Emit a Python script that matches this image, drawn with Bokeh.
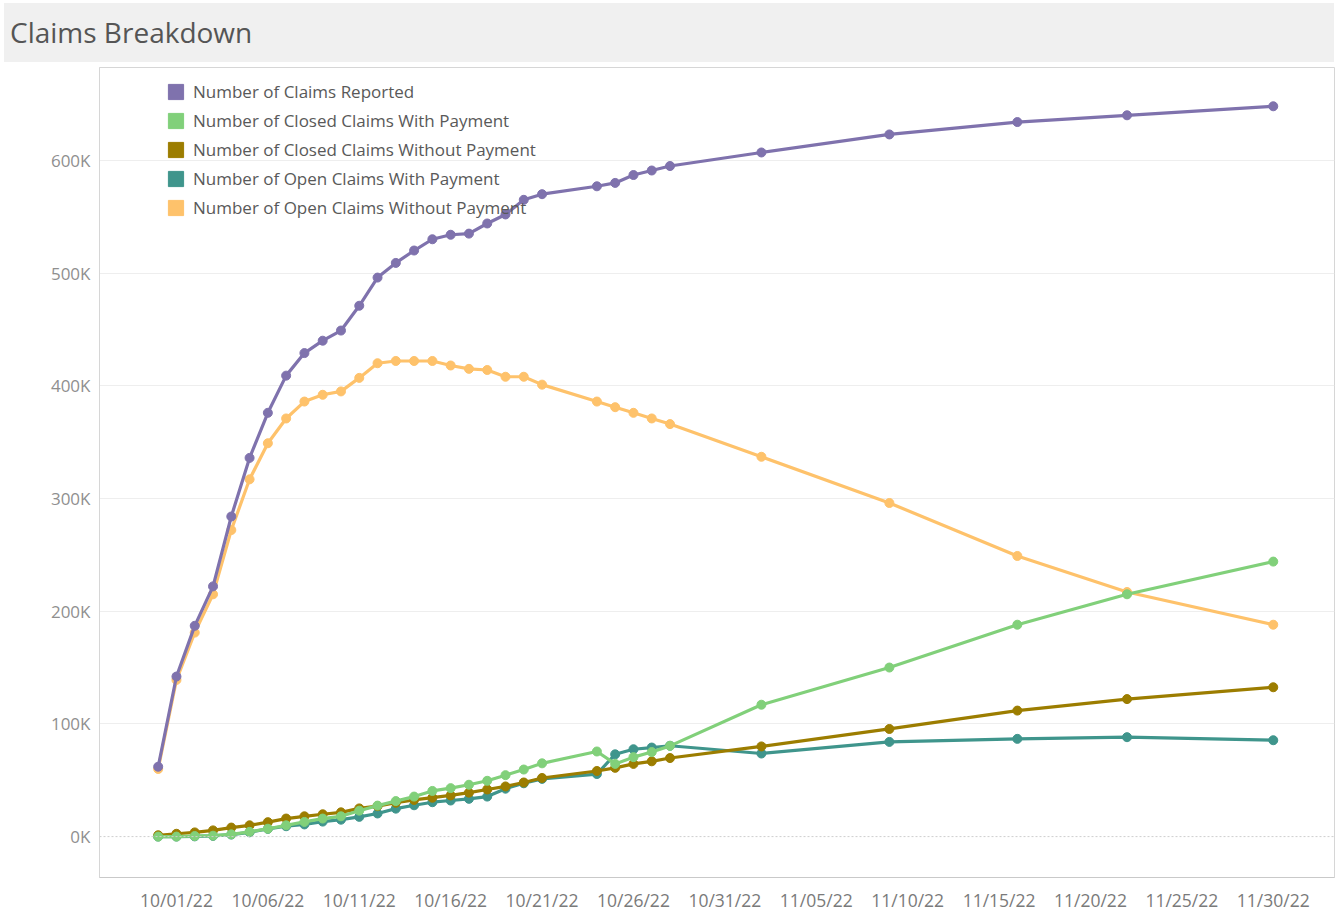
import pandas as pd
from bokeh.plotting import figure
from bokeh.models import (FixedTicker, DatetimeTickFormatter, Legend, LegendItem,
                          Span, Div, Range1d)
from bokeh.layouts import column
from bokeh.embed import file_html
from bokeh.resources import INLINE

# ---------------- data (values in thousands) ----------------
dates = ["2022-09-30",
         "2022-10-01", "2022-10-02", "2022-10-03", "2022-10-04", "2022-10-05",
         "2022-10-06", "2022-10-07", "2022-10-08", "2022-10-09", "2022-10-10",
         "2022-10-11", "2022-10-12", "2022-10-13", "2022-10-14", "2022-10-15",
         "2022-10-16", "2022-10-17", "2022-10-18", "2022-10-19", "2022-10-20",
         "2022-10-21",
         "2022-10-24", "2022-10-25", "2022-10-26", "2022-10-27", "2022-10-28",
         "2022-11-02", "2022-11-09", "2022-11-16", "2022-11-22", "2022-11-30"]

claims_reported = [62, 142, 187, 222, 284, 336, 376, 409, 429, 440,
                   449, 471, 496, 509, 520, 530, 534, 535, 544, 552,
                   565, 570,
                   577, 580, 587, 591, 595,
                   607, 623, 634, 640, 648]

closed_with_payment = [0, 0, 0.5, 0.8, 2, 4.2, 7, 10, 13, 16,
                       18, 23, 27.5, 31.5, 35.5, 40.5, 43, 46, 49.5, 54.5,
                       59.5, 65,
                       75.5, 64.5, 70.5, 75, 80.5,
                       117, 150, 188, 215, 244]

closed_without_payment = [1.2, 2.5, 3.7, 5.5, 8, 10, 12.8, 16, 18, 19.8,
                          21.5, 25, 27, 30, 32.5, 34.5, 36.5, 39, 41.8, 44.5,
                          48, 52,
                          58.2, 61, 64.5, 66.8, 69.7,
                          80, 95.5, 111.8, 122, 132.5]

open_with_payment = [0, 0, 0.2, 0.6, 1.8, 3.8, 6.8, 9.2, 10.8, 13.3,
                     15, 17.5, 20.5, 24.8, 27.8, 30.5, 32, 33.5, 35.5, 42.5,
                     47.3, 51.2,
                     55.5, 73, 77.5, 79, 80.6,
                     73.7, 84, 86.7, 88.2, 85.5]

open_without_payment = [60, 139, 181, 215, 272, 317, 349, 371, 386, 392,
                        395, 407, 420, 422, 422, 422, 418, 415, 414, 408,
                        408, 401,
                        386, 381, 376, 371, 366,
                        337, 296, 249, 217, 188]

series_names = ["Number of Claims Reported",
                "Number of Closed Claims With Payment",
                "Number of Closed Claims Without Payment",
                "Number of Open Claims With Payment",
                "Number of Open Claims Without Payment"]

x_tick_dates = ["2022-10-01", "2022-10-06", "2022-10-11", "2022-10-16",
                "2022-10-21", "2022-10-26", "2022-10-31", "2022-11-05",
                "2022-11-10", "2022-11-15", "2022-11-20", "2022-11-25",
                "2022-11-30"]
y_ticks = [0, 100, 200, 300, 400, 500, 600]
y_tick_labels = ["0K", "100K", "200K", "300K", "400K", "500K", "600K"]

# ---------------- styling ----------------
colors = {
    series_names[0]: "#7f72ad",
    series_names[1]: "#81d07a",
    series_names[2]: "#9c7d00",
    series_names[3]: "#3f958c",
    series_names[4]: "#fec26b",
}
values = {
    series_names[0]: claims_reported,
    series_names[1]: closed_with_payment,
    series_names[2]: closed_without_payment,
    series_names[3]: open_with_payment,
    series_names[4]: open_without_payment,
}

FONT = "Open Sans"
x = pd.to_datetime(dates)
day_ms = 86400000.0
t0 = pd.Timestamp("2022-10-01").value / 1e6

p = figure(width=1336, height=852, output_backend="svg", toolbar_location=None,
           x_axis_type="datetime",
           x_range=Range1d(t0 - 4.21 * day_ms, t0 + 63.35 * day_ms),
           y_range=Range1d(-36.3, 682.4),
           min_border_left=99, min_border_right=2, min_border_top=5,
           min_border_bottom=36, margin=0)
p.background_fill_color = "white"
p.border_fill_color = "white"
p.outline_line_color = "#d6d6d6"
p.outline_line_width = 1

# grid
p.xgrid.visible = False
p.ygrid.ticker = FixedTicker(ticks=y_ticks[1:])
p.ygrid.grid_line_color = "#eeeeee"
p.ygrid.grid_line_width = 1
p.add_layout(Span(location=0, dimension="width", line_color="#cfcfcf",
                  line_dash="2 2", line_width=1))

# axes
p.yaxis.ticker = FixedTicker(ticks=y_ticks)
p.yaxis.major_label_overrides = {t: l for t, l in zip(y_ticks, y_tick_labels)}
p.yaxis.axis_line_color = "#d6d6d6"
p.yaxis.major_tick_line_color = None
p.yaxis.minor_tick_line_color = None
p.yaxis.major_tick_out = 0
p.yaxis.major_tick_in = 0
p.yaxis.minor_tick_out = 0
p.yaxis.major_label_text_color = "#8f8f8f"
p.yaxis.major_label_text_font = FONT
p.yaxis.major_label_text_font_size = "17px"
p.yaxis.major_label_standoff = 9

p.xaxis.ticker = FixedTicker(ticks=[pd.Timestamp(d).value / 1e6 for d in x_tick_dates])
fmt = "%m/%d/%y"
p.xaxis.formatter = DatetimeTickFormatter(days=fmt, months=fmt, hours=fmt,
                                          years=fmt, minutes=fmt, seconds=fmt,
                                          milliseconds=fmt, minsec=fmt, hourmin=fmt)
p.xaxis.axis_line_color = "#c9c9c9"
p.xaxis.major_tick_line_color = None
p.xaxis.minor_tick_line_color = None
p.xaxis.major_tick_out = 0
p.xaxis.major_tick_in = 0
p.xaxis.minor_tick_out = 0
p.xaxis.major_label_text_color = "#7a7a7a"
p.xaxis.major_label_text_font = FONT
p.xaxis.major_label_text_font_size = "17.5px"
p.xaxis.major_label_standoff = 10

# series (draw order: orange, teal, gold, green, purple)
order = [series_names[4], series_names[3], series_names[2], series_names[1], series_names[0]]
for name in order:
    c = colors[name]
    p.line(x, values[name], line_color=c, line_width=3.2)
    p.scatter(x, values[name], size=9, fill_color=c, line_color=c)

# legend with square swatches (swatch quads sit outside the visible x range)
items = []
for name in series_names:
    r = p.quad(left=[t0 - 100 * day_ms], right=[t0 - 99 * day_ms], top=[1], bottom=[0],
               fill_color=colors[name], line_color=colors[name])
    items.append(LegendItem(label=name, renderers=[r]))
legend = Legend(items=items, location=(67, 658), glyph_width=19, glyph_height=19,
                label_height=18, label_standoff=8, spacing=6, padding=0, margin=0,
                label_text_font=FONT, label_text_font_size="17px",
                label_text_color="#595959",
                background_fill_alpha=0, border_line_alpha=0)
p.add_layout(legend)

title = Div(text='<div style="padding-left:6px;line-height:59px;white-space:nowrap;">'
                 'Claims Breakdown</div>',
            width=1330, height=59, margin=(3, 7, 0, 4),
            styles={"background-color": "#f0f0f0", "color": "#555555",
                    "font-family": "'Open Sans'", "font-size": "28px"})

layout = column(title, p, spacing=0)
open("out.html", "w").write(file_html(layout, INLINE))
